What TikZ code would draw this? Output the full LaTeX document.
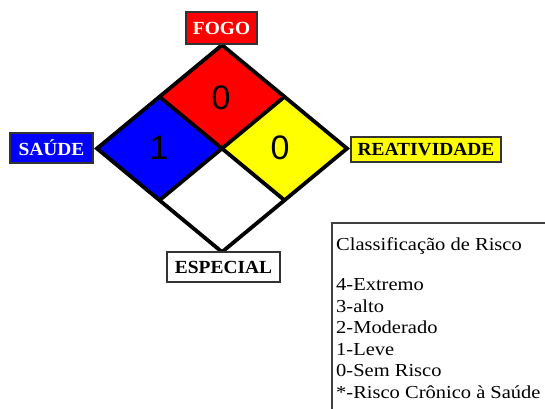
\documentclass[tikz,border=0pt]{standalone}
\usepackage{fontspec}
\setmainfont{Liberation Serif}
\newfontfamily\legendfont{Liberation Serif}[FakeStretch=1.12]
\newfontfamily\labelfont{Liberation Serif}[FakeStretch=1.05]
\newfontfamily\digitfont{Liberation Sans}
\usetikzlibrary{calc}
\definecolor{nfpared}{RGB}{255,0,0}
\definecolor{nfpablue}{RGB}{0,0,255}
\definecolor{nfpayellow}{RGB}{255,255,0}
\begin{document}
\begin{tikzpicture}[x=1pt,y=-1pt,
  edge/.style={line width=3.8pt, line join=miter, line cap=round},
  labelbox/.style={draw=black!80, line width=1.6pt, inner sep=0pt,
    font=\labelfont\bfseries\fontsize{18.5}{18.5}\selectfont},
  digit/.style={inner sep=0pt, font=\digitfont\fontsize{34}{34}\selectfont},
  legendline/.style={anchor=base west, inner sep=0pt,
    font=\legendfont\fontsize{18.3}{18.3}\selectfont}]
\useasboundingbox (0,0) rectangle (545,408);
\fill[white] (0,0) rectangle (545,408);

% diamond vertices
\coordinate (T) at (222,45);
\coordinate (R) at (347,148.5);
\coordinate (B) at (222,252);
\coordinate (L) at (97,148.5);
\coordinate (C) at (222,148.5);
\coordinate (TL) at ($(T)!0.5!(L)$);
\coordinate (TR) at ($(T)!0.5!(R)$);
\coordinate (BL) at ($(B)!0.5!(L)$);
\coordinate (BR) at ($(B)!0.5!(R)$);

% quadrants
\fill[nfpared] (T) -- (TR) -- (C) -- (TL) -- cycle;
\fill[nfpayellow] (TR) -- (R) -- (BR) -- (C) -- cycle;
\fill[white] (C) -- (BR) -- (B) -- (BL) -- cycle;
\fill[nfpablue] (TL) -- (C) -- (BL) -- (L) -- cycle;
\draw[edge] (T) -- (R) -- (B) -- (L) -- cycle;
\draw[edge] (TL) -- (BR);
\draw[edge] (TR) -- (BL);

% numbers
\node[digit] (fire) at (221,98) {0};
\node[digit] (health) at (159,148) {1};
\node[digit] (react) at (280,148) {0};

% labels
\node[labelbox, fill=nfpared, text=white, minimum width=71pt, minimum height=32pt] (fogo) at (221.5,28) {FOGO};
\node[labelbox, fill=nfpablue, text=white, minimum width=83pt, minimum height=30pt] (saude) at (51.5,148) {SAÚDE};
\node[labelbox, fill=nfpayellow, text=black, minimum width=150pt, minimum height=25pt] (reat) at (426,149.5) {REATIVIDADE};
\node[labelbox, fill=white, text=black, minimum width=113pt, minimum height=30pt] (esp) at (223.5,267) {ESPECIAL};

% legend
\coordinate (lgbot) at (332,412);
\coordinate (lgcorner) at (332,223);
\coordinate (lgright) at (550,223);
\draw[black!75, line width=2pt] (lgbot) -- (lgcorner) -- (lgright);
\node[legendline] (lg0) at (336,250) {Classificação de Risco};
\node[legendline] (lg1) at (336,290) {4-Extremo};
\node[legendline] (lg2) at (336,312) {3-alto};
\node[legendline] (lg3) at (336,333.5) {2-Moderado};
\node[legendline] (lg4) at (336,355) {1-Leve};
\node[legendline] (lg5) at (336,376.5) {0-Sem Risco};
\node[legendline] (lg6) at (336,398) {*-Risco Crônico à Saúde};
\end{tikzpicture}
\end{document}
